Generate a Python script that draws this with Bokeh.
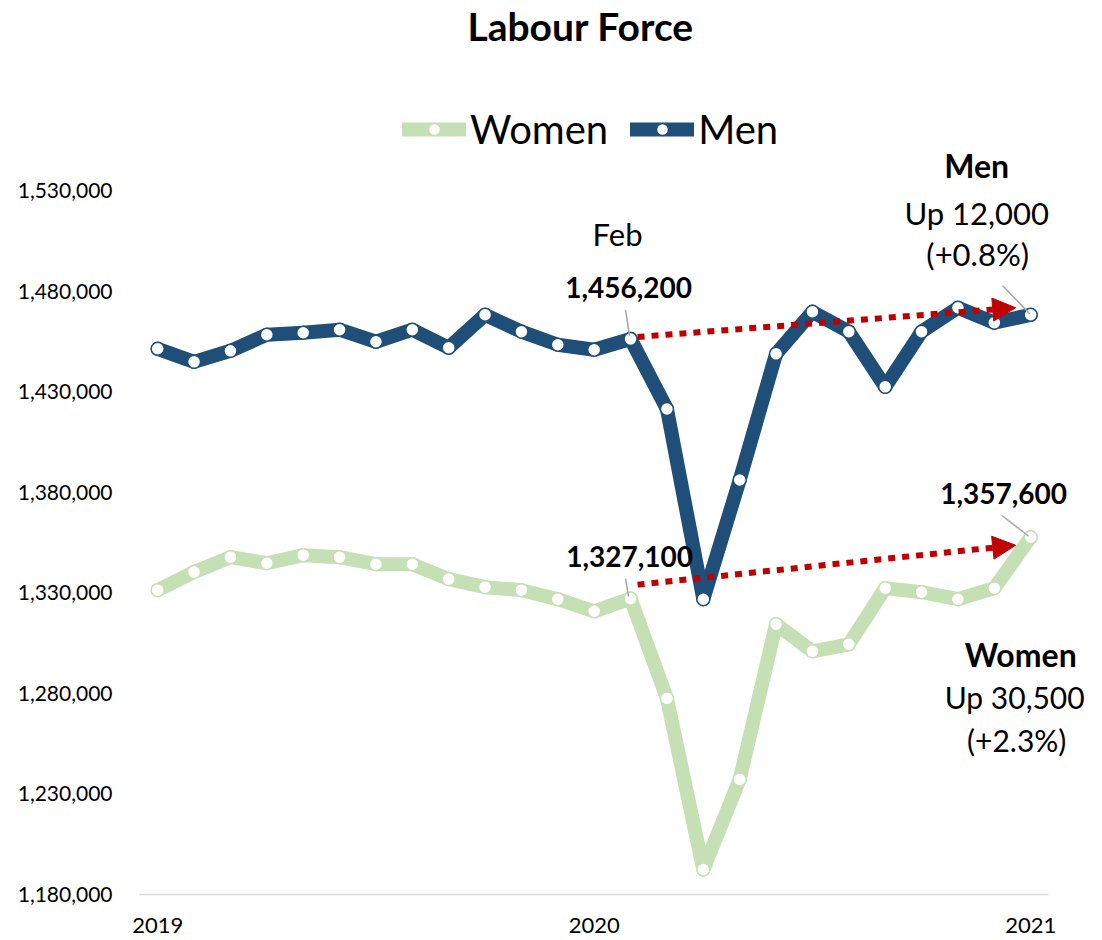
from bokeh.plotting import figure
from bokeh.models import (FixedTicker, NumeralTickFormatter, Label, Arrow,
                          NormalHead, ColumnDataSource)
from bokeh.embed import file_html
from bokeh.resources import INLINE

# ---------------- data ----------------
title_text = "Labour Force"
months = list(range(25))  # Jan 2019 .. Jan 2021
x_tick_positions = [0, 12, 24]
x_tick_labels = ["2019", "2020", "2021"]
y_ticks = [1180000, 1230000, 1280000, 1330000, 1380000, 1430000, 1480000, 1530000]

women = [1331300, 1340300, 1347700, 1344700, 1348700, 1347700, 1344200, 1344200,
         1336800, 1332800, 1331300, 1326800, 1320800, 1327100, 1277500, 1192400,
         1237200, 1314400, 1300900, 1304400, 1332300, 1330300, 1326800, 1332300,
         1357600]
men = [1451300, 1444800, 1450300, 1458300, 1459300, 1460800, 1454800, 1460800,
       1451800, 1468200, 1459800, 1453300, 1450800, 1456200, 1421400, 1326800,
       1386100, 1448800, 1469700, 1459800, 1432400, 1459800, 1471700, 1464300,
       1468200]

FEB = 13
LAST = 24

# ---------------- styling ----------------
FONT = "Lato"
MEN_C = "#1F4E79"
WOMEN_C = "#C5E0B4"
RED = "#C00000"
GREY = "#A6A6A6"

PX_PER_X = 36.375          # pixels per month
PX_PER_V = 704 / 350000    # pixels per unit of value


def dx(px):
    return px / PX_PER_X


def dy(px):
    return px / PX_PER_V


frame_w = 947
frame_h = 894
y_bottom = 1180000
y_top = y_bottom + frame_h / PX_PER_V

p = figure(frame_width=frame_w, frame_height=frame_h,
           x_range=(-0.5, -0.5 + frame_w / PX_PER_X), y_range=(y_bottom, y_top),
           output_backend="svg", toolbar_location=None,
           min_border_left=139, min_border_right=0, min_border_top=0,
           min_border_bottom=46)

p.outline_line_color = None
p.xgrid.visible = False
p.ygrid.visible = False
p.background_fill_color = "white"
p.border_fill_color = "white"

# x axis
p.xaxis.ticker = FixedTicker(ticks=x_tick_positions)
p.xaxis.major_label_overrides = {k: v for k, v in zip(x_tick_positions, x_tick_labels)}
p.xaxis.bounds = (-0.5, 24.5)
p.xaxis.axis_line_color = "#D9D9D9"
p.xaxis.axis_line_width = 1.5
p.xaxis.major_tick_line_color = None
p.xaxis.minor_tick_line_color = None
p.xaxis.major_tick_in = 0
p.xaxis.major_tick_out = 0
p.xaxis.major_label_standoff = 23
p.xaxis.major_label_text_font = FONT
p.xaxis.major_label_text_font_size = "22px"
p.xaxis.major_label_text_color = "#000000"

# y axis
p.yaxis.ticker = FixedTicker(ticks=y_ticks)
p.yaxis.formatter = NumeralTickFormatter(format="0,0")
p.yaxis.axis_line_color = None
p.yaxis.major_tick_line_color = None
p.yaxis.minor_tick_line_color = None
p.yaxis.major_tick_in = 0
p.yaxis.major_tick_out = 0
p.yaxis.major_label_standoff = 27
p.yaxis.major_label_text_font = FONT
p.yaxis.major_label_text_font_size = "21px"
p.yaxis.major_label_text_color = "#000000"

src = ColumnDataSource(dict(x=months, women=women, men=men))

for col, color, name in [("women", WOMEN_C, "Women"), ("men", MEN_C, "Men")]:
    p.line("x", col, source=src, line_color=color, line_width=14,
           line_join="round", line_cap="round", legend_label=name)
    p.scatter("x", col, source=src, size=13, fill_color="white",
              line_color=color, line_width=1.5, legend_label=name)

# legend
lg = p.legend[0]
lg.orientation = "horizontal"
lg.location = (263, 741)
lg.label_text_font = FONT
lg.label_text_font_size = "40px"
lg.label_text_color = "#000000"
lg.glyph_width = 64
lg.glyph_height = 30
lg.label_standoff = 4
lg.spacing = 22
lg.padding = 0
lg.margin = 0
lg.border_line_color = None
lg.background_fill_alpha = 0

# leader lines (grey)
lead_x0 = [FEB + dx(-5), FEB + dx(-5), LAST + dx(-28), LAST + dx(-29)]
lead_y0 = [men[FEB] + dy(29), women[FEB] + dy(20), men[LAST] + dy(29), women[LAST] + dy(22)]
lead_x1 = [FEB + dx(-1), FEB + dx(-2), LAST + dx(-1), LAST + dx(-2)]
lead_y1 = [men[FEB] + dy(3), women[FEB] + dy(2), men[LAST] + dy(1), women[LAST] + dy(1)]
p.segment(lead_x0, lead_y0, lead_x1, lead_y1, line_color=GREY, line_width=1.5)

# red dotted arrows
arrows = [
    (FEB + dx(7), men[FEB] + dy(2), LAST + dx(-15), men[LAST] + dy(7)),
    (FEB + dx(7), women[FEB] + dy(14), LAST + dx(-15), women[LAST] + dy(-8)),
]
for xs, ys, xe, ye in arrows:
    p.add_layout(Arrow(x_start=xs, y_start=ys, x_end=xe, y_end=ye,
                       line_color=RED, line_width=6, line_dash="7 7",
                       end=NormalHead(size=23, fill_color=RED, line_color=RED,
                                      line_width=1)))


def lab(x, y, text, xo, yo, size, bold=False):
    p.add_layout(Label(x=x, y=y, x_offset=xo, y_offset=yo, text=text,
                       text_font=FONT, text_font_size=size,
                       text_font_style="bold" if bold else "normal",
                       text_align="center", text_baseline="middle",
                       text_color="#000000"))


# chart title, centred above the plotted lines
lab(dx(580 - 157), y_ticks[-1], title_text, 0, 165, "39px", True)

lab(FEB, men[FEB], "Feb", -13, 105, "31px")
lab(FEB, men[FEB], "1,456,200", -2, 51, "28px", True)
lab(FEB, women[FEB], "1,327,100", -1, 42, "28px", True)
lab(LAST, women[LAST], "1,357,600", -27, 44, "28px", True)

lab(LAST, men[LAST], "Men", -54, 149, "32px", True)
lab(LAST, men[LAST], "Up 12,000", -54, 102, "31px")
lab(LAST, men[LAST], "(+0.8%)", -53, 61, "31px")

lab(LAST, women[LAST], "Women", -10, -117, "32px", True)
lab(LAST, women[LAST], "Up 30,500", -16, -160, "30px")
lab(LAST, women[LAST], "(+2.3%)", -14, -203, "30px")

open("out.html", "w").write(file_html(p, INLINE))
